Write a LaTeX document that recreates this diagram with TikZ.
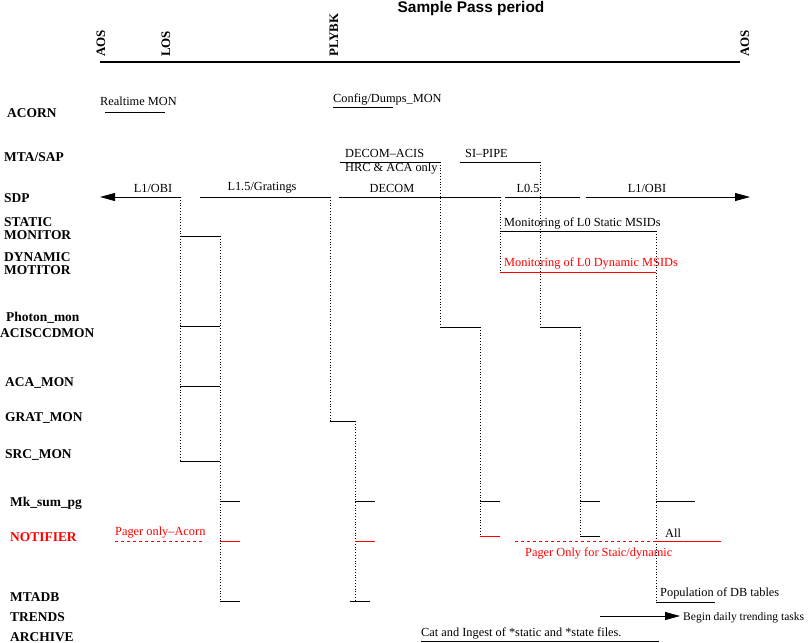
\documentclass[tikz,border=0pt]{standalone}
\usepackage{fontspec}
\setmainfont{Liberation Serif}
\newfontfamily\titlefont{Liberation Sans}
\usetikzlibrary{arrows.meta}
\tikzset{
  rowlabel/.style={anchor=west, inner sep=0pt, font=\fontsize{13.5}{13}\selectfont\bfseries},
  tasklabel/.style={inner sep=0pt, font=\fontsize{12.4}{12}\selectfont},
  milestone/.style={rotate=90, anchor=west, inner sep=0pt, font=\fontsize{13}{13}\selectfont\bfseries},
  flow/.style={line width=0.8bp},
  handoff/.style={line width=0.8bp, dotted},
  pager/.style={line width=0.8bp, red, dash pattern=on 3bp off 3bp},
  bigarrow/.style={-{Triangle[length=15bp,width=8bp]}}
}
\begin{document}
\begin{tikzpicture}[x=1bp, y=-1bp]
\useasboundingbox (0,0) rectangle (811,643);

% Title and time axis
\node[font=\titlefont\bfseries\fontsize{15.5}{15}\selectfont] (title) at (471,9) {Sample Pass period};
\draw[line width=2bp] (100,62) -- (740,62);
\foreach \x/\name/\txt in {101/aos/AOS, 166/los/LOS, 334/plybk/PLYBK, 745/aosend/AOS}
  \node[milestone] (\name) at (\x,57) {\txt};

% Row labels
\node[rowlabel] (acorn) at (7,113) {ACORN};
\node[rowlabel] (mtasap) at (4,157) {MTA/SAP};
\node[rowlabel] (sdp) at (4,198) {SDP};
\node[rowlabel, align=left] (staticmon) at (4,229) {STATIC\\MONITOR};
\node[rowlabel, align=left] (dynmon) at (4,264) {DYNAMIC\\MOTITOR};
\node[rowlabel] (photon) at (6,318) {Photon\_mon};
\node[rowlabel] (acisccd) at (0,333) {ACISCCDMON};
\node[rowlabel] (acamon) at (5,383) {ACA\_MON};
\node[rowlabel] (gratmon) at (5,418) {GRAT\_MON};
\node[rowlabel] (srcmon) at (5,455) {SRC\_MON};
\node[rowlabel] (mksum) at (10,503) {Mk\_sum\_pg};
\node[rowlabel, red] (notifier) at (10,537) {NOTIFIER};
\node[rowlabel] (mtadb) at (10,597) {MTADB};
\node[rowlabel] (trends) at (10,617) {TRENDS};
\node[rowlabel] (archive) at (10,637) {ARCHIVE};

% Task labels
\node[tasklabel, anchor=west] (realtime) at (100,101) {Realtime MON};
\node[tasklabel, anchor=west] (config) at (333,99) {Config/Dumps\_MON};
\node[tasklabel, anchor=west] (decomacis) at (345,153) {DECOM--ACIS};
\node[tasklabel, anchor=west] (hrcaca) at (345,169) {HRC \& ACA only};
\node[tasklabel, anchor=west] (sipipe) at (465,153) {SI--PIPE};
\node[tasklabel] (obileft) at (153,188) {L1/OBI};
\node[tasklabel] (gratings) at (262,188) {L1.5/Gratings};
\node[tasklabel] (decom) at (392,188) {DECOM};
\node[tasklabel] (lzerofive) at (528,188) {L0.5};
\node[tasklabel] (obiright) at (647,188) {L1/OBI};
\node[tasklabel, anchor=west] (staticmsid) at (504,223) {Monitoring of L0 Static MSIDs};
\node[tasklabel, anchor=west, red] (dynmsid) at (504,263) {Monitoring of L0 Dynamic MSIDs};
\node[tasklabel, anchor=west, red] (pageracorn) at (115,533) {Pager only--Acorn};
\node[tasklabel, anchor=west, red] (pagerstatic) at (525,553) {Pager Only for Staic/dynamic};
\node[tasklabel, anchor=west] (all) at (665,533) {All};
\node[tasklabel, anchor=west] (population) at (660,593) {Population of DB tables};
\node[tasklabel, anchor=west, font=\fontsize{11.6}{12}\selectfont] (daily) at (683,618) {Begin daily trending tasks};
\node[tasklabel, anchor=west] (ingest) at (421,633) {Cat and Ingest of *static and *state files.};

% SDP flow
\draw[flow, bigarrow] (180,197) -- (100,197);
\draw[flow] (200,197) -- (330,197);
\draw[flow] (339,197) -- (500,197);
\draw[flow] (505,197) -- (580,197);
\draw[flow, bigarrow] (586,197) -- (750,197);

% Dotted hand-offs
\foreach \x/\ya/\yb in {180/197/461, 220/236/601, 330/197/421, 355/421/601,
  440/162/327, 480/327/536, 500/197/272, 540/162/327, 580/327/536, 656/231/602}
  \draw[handoff] (\x,\ya) -- (\x,\yb);

% Task segments
\foreach \xa/\xb/\y in {105/165/112, 333/393/107, 340/440/162, 460/540/162,
  180/220/236, 180/220/326, 180/220/386, 180/220/461,
  220/240/501, 220/240/601, 330/355/421, 355/375/501, 350/370/601,
  440/480/327, 480/500/501, 540/580/327, 580/600/501, 580/600/536,
  500/656/231, 656/695/501, 656/715/602, 421/659/641}
  \draw[flow] (\xa,\y) -- (\xb,\y);

% Notifier segments
\foreach \xa/\xb/\y in {220/240/541, 355/375/541, 480/500/536, 500/656/272, 656/721/541}
  \draw[flow, red] (\xa,\y) -- (\xb,\y);
\draw[pager] (115,541) -- (205,541);
\draw[pager] (515,541) -- (656,541);

% Trends
\draw[flow, bigarrow] (600,616) -- (680,616);
\end{tikzpicture}
\end{document}
